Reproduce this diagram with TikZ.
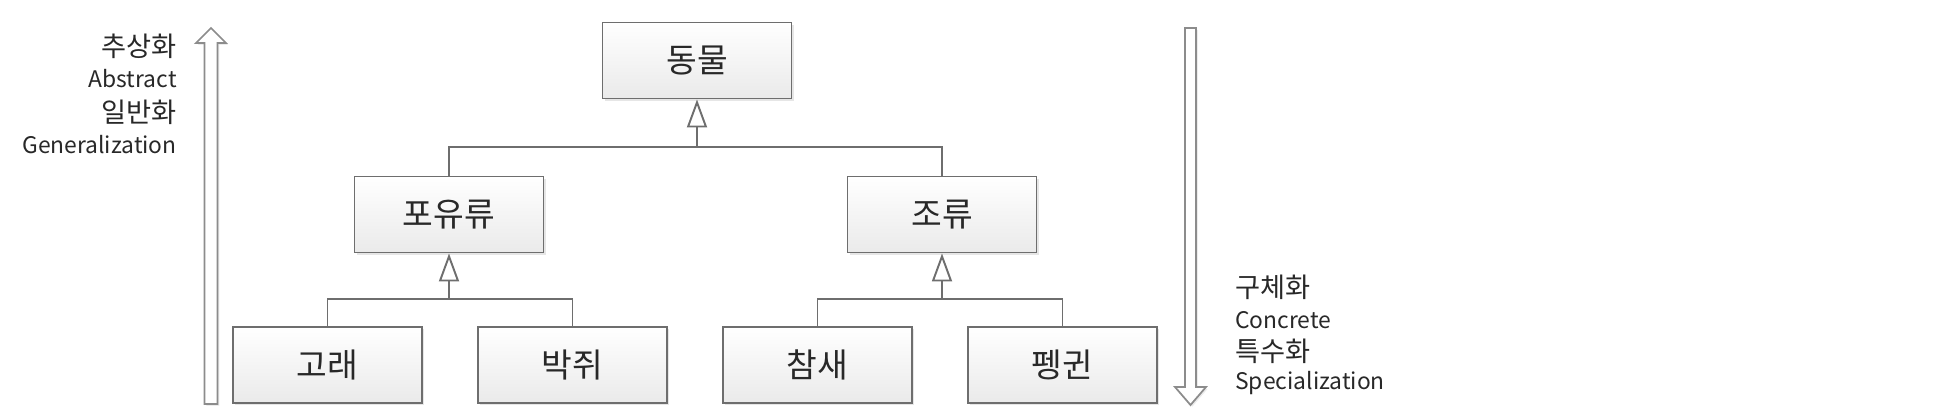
\documentclass[tikz,border=0pt]{standalone}
\usepackage{fontspec}
\setmainfont{Noto Sans CJK KR}
\usetikzlibrary{arrows.meta,shadows}
\definecolor{boxline}{RGB}{110,110,110}
\definecolor{boxshade}{RGB}{234,234,234}
\definecolor{labeltext}{RGB}{40,40,40}
\definecolor{arrowline}{RGB}{140,140,140}

\begin{document}
\begin{tikzpicture}[x=0.02cm,y=-0.02cm,
    classbox/.style={draw=boxline, line width=1.1pt, top color=white, bottom color=boxshade,
      minimum width=3.78cm, minimum height=1.52cm, text=labeltext,
      font=\fontsize{19}{22}\selectfont,
      drop shadow={opacity=0.2, shadow xshift=1.2pt, shadow yshift=-1.2pt}},
    sidetext/.style={font=\fontsize{13}{15}\selectfont, text=labeltext, inner sep=0pt},
    sidekor/.style={sidetext, font=\fontsize{15.5}{17}\selectfont},
    link/.style={draw=boxline, line width=1.1pt},
    inherit/.style={link, -{Triangle[open, length=0.56cm, width=0.4cm, line width=1.1pt]}},
    bigarrow/.style={draw=arrowline, line width=1pt, fill=white,
      drop shadow={opacity=0.15, shadow xshift=1pt, shadow yshift=-1pt}}]

    % Fix the page size to the reference
    \useasboundingbox (0,0) rectangle (1937,419);

    % Draw the class boxes
    \node[classbox] (animal)  at (697,60.5) {동물};
    \node[classbox] (mammal)  at (449,214.5) {포유류};
    \node[classbox] (bird)    at (942,214.5) {조류};
    \node[classbox] (whale)   at (327.5,365) {고래};
    \node[classbox] (bat)     at (572.5,365) {박쥐};
    \node[classbox] (sparrow) at (817.5,365) {참새};
    \node[classbox] (penguin) at (1062.5,365) {펭귄};

    % Junction points of the inheritance lines
    \coordinate (topjoin) at (697,147);
    \coordinate (mamjoin) at (449,299);
    \coordinate (birdjoin) at (942,299);

    % Draw inheritance from animal
    \draw[link] (mammal.north) |- (topjoin) -| (bird.north);
    \draw[inherit] (topjoin) -- (animal.south);

    % Draw inheritance from mammal
    \draw[link] (whale.north) |- (mamjoin) -| (bat.north);
    \draw[inherit] (mamjoin) -- (mammal.south);

    % Draw inheritance from bird
    \draw[link] (sparrow.north) |- (birdjoin) -| (penguin.north);
    \draw[inherit] (birdjoin) -- (bird.south);

    % Draw upward arrow for abstraction
    \draw[bigarrow] (204.5,404) -- (204.5,43) -- (196,43) -- (211,28) -- (226,43)
      -- (217.5,43) -- (217.5,404) -- cycle;

    % Draw downward arrow for specialization
    \draw[bigarrow] (1185,28) -- (1185,387) -- (1175,387) -- (1190.5,405) -- (1206,387)
      -- (1196,387) -- (1196,28) -- cycle;

    % Add labels next to the arrows
    \node[sidekor, anchor=base east] (abs1) at (177,56) {추상화};
    \node[sidetext, anchor=base east] (abs2) at (177,87) {Abstract};
    \node[sidekor, anchor=base east] (abs3) at (177,122) {일반화};
    \node[sidetext, anchor=base east] (abs4) at (177,153) {Generalization};
    \node[sidekor, anchor=base west] (con1) at (1235,297) {구체화};
    \node[sidetext, anchor=base west] (con2) at (1235,328) {Concrete};
    \node[sidekor, anchor=base west] (con3) at (1235,361) {특수화};
    \node[sidetext, anchor=base west] (con4) at (1235,389) {Specialization};
\end{tikzpicture}
\end{document}
